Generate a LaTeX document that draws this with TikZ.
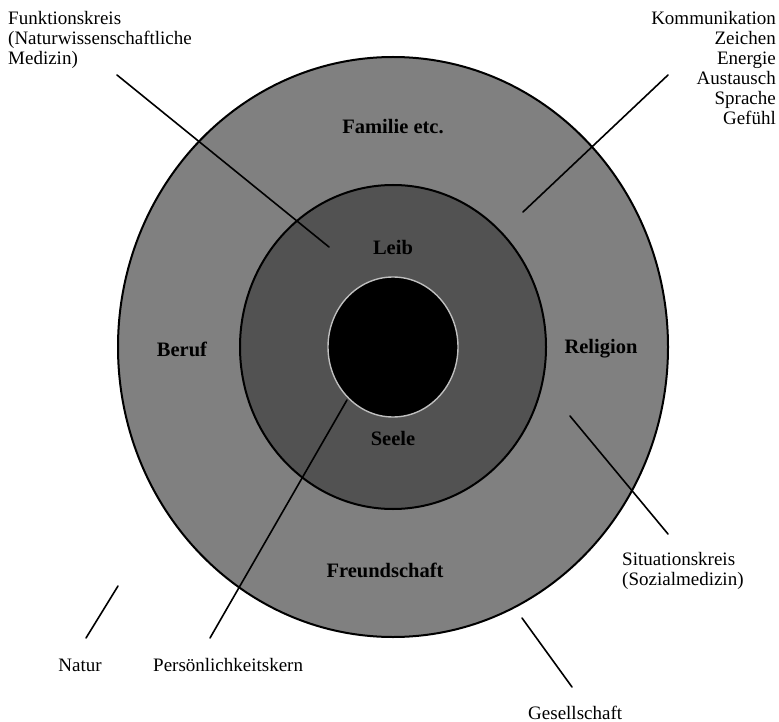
\documentclass[tikz,border=0pt]{standalone}
\usepackage{fontspec}
\setmainfont{Liberation Serif}
\usetikzlibrary{positioning}

\begin{document}
\begin{tikzpicture}[x=1pt,y=-1pt,
    ring/.style={draw=black,line width=2pt},
    pointer/.style={line width=1.6pt,line cap=round},
    txt/.style={font=\fontsize{19}{20}\selectfont,inner sep=0pt},
    inlbl/.style={font=\fontsize{20.5}{21}\selectfont\bfseries,inner sep=0pt}]
    \useasboundingbox (0,0) rectangle (779,722);

    % Draw circles
    \coordinate (centre) at (393,347);
    \draw [ring,fill=black!50] (centre) ellipse [x radius=275,y radius=290];
    \draw [ring,fill=black!68] (centre) ellipse [x radius=153,y radius=162];
    \draw [black!25,line width=1.4pt,fill=black] (centre) ellipse [x radius=65,y radius=70];

    % ring labels
    \node [inlbl] (familie) at (393,127) {Familie etc.};
    \node [inlbl] (leib) at (393,247) {Leib};
    \node [inlbl] (beruf) at (182,349) {Beruf};
    \node [inlbl] (religion) at (601,349) {Religion};
    \node [inlbl] (seele) at (393,438) {Seele};
    \node [inlbl] (freund) at (385,570) {Freundschaft};

    % outer labels
    \node [txt,align=left,anchor=north west] (funk) at (8,11)
        {Funktionskreis\\(Naturwissenschaftliche\\Medizin)};
    \node [txt,align=right,anchor=north east] (komm) at (776,11)
        {Kommunikation\\Zeichen\\Energie\\Austausch\\Sprache\\Gef\"uhl};
    \node [txt,align=left,anchor=north west] (situation) at (622,552)
        {Situationskreis\\(Sozialmedizin)};
    \node [txt,anchor=base] (natur) at (80,671) {Natur};
    \node [txt,anchor=base west] (kern) at (153,671) {Pers\"onlichkeitskern};
    \node [txt,anchor=base west] (gesell) at (528,719) {Gesellschaft};

    % pointer lines
    \coordinate (funk-a) at (117,75);
    \coordinate (funk-b) at (329,247);
    \coordinate (komm-a) at (668,75);
    \coordinate (komm-b) at (523,212);
    \coordinate (kern-a) at (347,400);
    \coordinate (kern-b) at (210,638);
    \coordinate (sit-a) at (570,416);
    \coordinate (sit-b) at (668,534);
    \coordinate (ges-a) at (522,618);
    \coordinate (ges-b) at (572,687);
    \coordinate (nat-a) at (118,586);
    \coordinate (nat-b) at (86,638);
    \draw [pointer] (funk-a) -- (funk-b);
    \draw [pointer] (komm-a) -- (komm-b);
    \draw [pointer] (kern-a) -- (kern-b);
    \draw [pointer] (sit-a) -- (sit-b);
    \draw [pointer] (ges-a) -- (ges-b);
    \draw [pointer] (nat-a) -- (nat-b);
\end{tikzpicture}
\end{document}
